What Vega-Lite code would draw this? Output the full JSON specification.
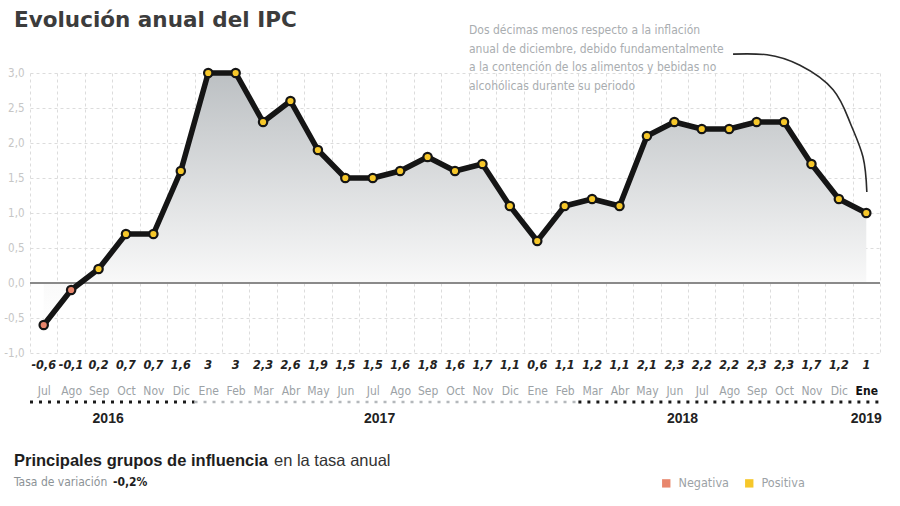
{
  "$schema": "https://vega.github.io/schema/vega-lite/v6.json",
  "width": 850,
  "height": 280,
  "autosize": "none",
  "padding": {"left": 30, "top": 73, "right": 20, "bottom": 153},
  "background": "white",
  "config": {
    "view": {"stroke": null},
    "font": "Liberation Sans",
    "locale": {"number": {"decimal": ",", "thousands": ".", "grouping": [3], "currency": ["", " €"], "minus": "-"}},
    "axisY": {
      "title": null, "grid": true, "gridDash": [3, 3], "gridColor": "#dcdcdc", "domain": false, "ticks": false,
      "labelColor": "#c6c6c6", "labelFontSize": 11.5, "labelPadding": 6, "labelOverlap": false,
      "labelFont": "Liberation Sans Narrow, DejaVu Sans Condensed, Liberation Sans", "format": ".1f"
    }
  },
  "datasets": {
    "ipc": [
      {"m": "Jul 2016", "v": -0.6, "s": "Negativa"},
      {"m": "Ago 2016", "v": -0.1, "s": "Negativa"},
      {"m": "Sep 2016", "v": 0.2, "s": "Positiva"},
      {"m": "Oct 2016", "v": 0.7, "s": "Positiva"},
      {"m": "Nov 2016", "v": 0.7, "s": "Positiva"},
      {"m": "Dic 2016", "v": 1.6, "s": "Positiva"},
      {"m": "Ene 2017", "v": 3.0, "s": "Positiva"},
      {"m": "Feb 2017", "v": 3.0, "s": "Positiva"},
      {"m": "Mar 2017", "v": 2.3, "s": "Positiva"},
      {"m": "Abr 2017", "v": 2.6, "s": "Positiva"},
      {"m": "May 2017", "v": 1.9, "s": "Positiva"},
      {"m": "Jun 2017", "v": 1.5, "s": "Positiva"},
      {"m": "Jul 2017", "v": 1.5, "s": "Positiva"},
      {"m": "Ago 2017", "v": 1.6, "s": "Positiva"},
      {"m": "Sep 2017", "v": 1.8, "s": "Positiva"},
      {"m": "Oct 2017", "v": 1.6, "s": "Positiva"},
      {"m": "Nov 2017", "v": 1.7, "s": "Positiva"},
      {"m": "Dic 2017", "v": 1.1, "s": "Positiva"},
      {"m": "Ene 2018", "v": 0.6, "s": "Positiva"},
      {"m": "Feb 2018", "v": 1.1, "s": "Positiva"},
      {"m": "Mar 2018", "v": 1.2, "s": "Positiva"},
      {"m": "Abr 2018", "v": 1.1, "s": "Positiva"},
      {"m": "May 2018", "v": 2.1, "s": "Positiva"},
      {"m": "Jun 2018", "v": 2.3, "s": "Positiva"},
      {"m": "Jul 2018", "v": 2.2, "s": "Positiva"},
      {"m": "Ago 2018", "v": 2.2, "s": "Positiva"},
      {"m": "Sep 2018", "v": 2.3, "s": "Positiva"},
      {"m": "Oct 2018", "v": 2.3, "s": "Positiva"},
      {"m": "Nov 2018", "v": 1.7, "s": "Positiva"},
      {"m": "Dic 2018", "v": 1.2, "s": "Positiva"},
      {"m": "Ene 2019", "v": 1.0, "s": "Positiva"}
    ],
    "seg": [
      {"year": "2016", "a": -0.5, "b": 5.5},
      {"year": "2017", "a": 5.5, "b": 19.5},
      {"year": "2018", "a": 19.5, "b": 30.5}
    ],
    "years": [
      {"year": "2016", "i": 2.35},
      {"year": "2017", "i": 12.25},
      {"year": "2018", "i": 23.3},
      {"year": "2019", "i": 30.0}
    ],
    "curve": [
      {"i": 25.14, "v": 3.27},
      {"i": 26.38, "v": 3.26},
      {"i": 27.58, "v": 3.11},
      {"i": 28.79, "v": 2.76},
      {"i": 29.41, "v": 2.29},
      {"i": 29.88, "v": 1.8},
      {"i": 30.02, "v": 1.3}
    ]
  },
  "layer": [
    {
      "data": {"name": "ipc"},
      "encoding": {
        "x": {
          "field": "m", "type": "ordinal", "sort": null,
          "scale": {"type": "band", "paddingInner": 0, "paddingOuter": 0},
          "axis": {
            "title": null, "grid": true, "gridDash": [3, 3], "gridColor": "#dcdcdc",
            "tickBand": "extent", "ticks": false, "domain": false, "labelAngle": 0,
            "labelPadding": 32, "labelFontSize": 12, "labelBaseline": "top",
            "labelFont": "Liberation Sans Narrow, DejaVu Sans Condensed, Liberation Sans",
            "labelExpr": "split(datum.label, ' ')[0]",
            "labelColor": {"condition": {"test": "datum.value == 'Ene 2019'", "value": "#111111"}, "value": "#9ca2a6"},
            "labelFontWeight": {"condition": {"test": "datum.value == 'Ene 2019'", "value": "bold"}, "value": "normal"}
          }
        },
        "y": {
          "field": "v", "type": "quantitative",
          "scale": {"domain": [-1, 3], "nice": false, "zero": false},
          "axis": {"values": [-1, -0.5, 0, 0.5, 1, 1.5, 2, 2.5, 3]}
        }
      },
      "layer": [
        {
          "mark": {
            "type": "area",
            "fill": {"x1": 0, "y1": 0, "x2": 0, "y2": 1, "gradient": "linear",
              "stops": [{"offset": 0, "color": "#bcc0c3"}, {"offset": 0.85, "color": "#fafafa"}, {"offset": 1, "color": "#ffffff"}]}
          },
          "encoding": {"y2": {"datum": 0}}
        },
        {
          "mark": {"type": "rule", "color": "#8a8a8a", "strokeWidth": 1.5},
          "encoding": {"x": null, "y": {"datum": 0, "axis": {"values": [-1, -0.5, 0, 0.5, 1, 1.5, 2, 2.5, 3]}}}
        },
        {
          "mark": {"type": "line", "stroke": "#151515", "strokeWidth": 5.5, "strokeJoin": "round", "strokeCap": "round"}
        },
        {
          "mark": {"type": "point", "filled": true, "shape": "circle", "size": 70, "stroke": "#151515", "strokeWidth": 2.2, "opacity": 1},
          "encoding": {
            "fill": {
              "field": "s", "type": "nominal",
              "scale": {"domain": ["Negativa", "Positiva"], "range": ["#e8866c", "#f6c72a"]},
              "legend": {
                "title": null, "orient": "none", "legendX": 630, "legendY": 404, "direction": "horizontal",
                "symbolType": "square", "symbolSize": 70, "symbolStrokeWidth": 0,
                "labelFontSize": 12.5, "labelColor": "#9ca2a6", "columnPadding": 14, "labelOffset": 6,
                "labelFont": "Liberation Sans Narrow, DejaVu Sans Condensed, Liberation Sans"
              }
            }
          }
        },
        {
          "mark": {"type": "text", "fontStyle": "italic", "fontWeight": "bold", "fontSize": 12.5, "color": "#222222", "dy": 12, "baseline": "middle",
            "font": "Liberation Sans Narrow, DejaVu Sans Condensed, Liberation Sans"},
          "encoding": {"y": {"datum": -1, "axis": {"values": [-1, -0.5, 0, 0.5, 1, 1.5, 2, 2.5, 3]}}, "text": {"field": "v", "type": "quantitative", "format": "~g"}}
        }
      ]
    },
    {
      "layer": [
        {
          "data": {"name": "seg"},
          "transform": [{"filter": "datum.year != '2017'"}],
          "mark": {"type": "rule", "strokeDash": [3, 6], "strokeWidth": 3, "color": "#1a1a1a", "yOffset": 49},
          "encoding": {
            "x": {"field": "a", "type": "quantitative", "scale": {"domain": [-0.5, 30.5], "nice": false, "zero": false}, "axis": null},
            "x2": {"field": "b"},
            "y": {"datum": -1, "type": "quantitative", "axis": {"values": [-1, -0.5, 0, 0.5, 1, 1.5, 2, 2.5, 3]}}
          }
        },
        {
          "data": {"name": "seg"},
          "transform": [{"filter": "datum.year == '2017'"}],
          "mark": {"type": "rule", "strokeDash": [3, 6], "strokeWidth": 2.5, "color": "#b4b8bb", "yOffset": 49},
          "encoding": {
            "x": {"field": "a", "type": "quantitative", "scale": {"domain": [-0.5, 30.5], "nice": false, "zero": false}, "axis": null},
            "x2": {"field": "b"},
            "y": {"datum": -1, "type": "quantitative", "axis": {"values": [-1, -0.5, 0, 0.5, 1, 1.5, 2, 2.5, 3]}}
          }
        },
        {
          "data": {"name": "years"},
          "mark": {"type": "text", "fontWeight": "bold", "fontSize": 14, "color": "#222222", "dy": 66, "baseline": "middle"},
          "encoding": {
            "x": {"field": "i", "type": "quantitative", "scale": {"domain": [-0.5, 30.5], "nice": false, "zero": false}, "axis": null},
            "y": {"datum": -1, "type": "quantitative", "axis": {"values": [-1, -0.5, 0, 0.5, 1, 1.5, 2, 2.5, 3]}},
            "text": {"field": "year"}
          }
        },
        {
          "data": {"name": "curve"},
          "mark": {"type": "line", "interpolate": "natural", "stroke": "#2a2a2a", "strokeWidth": 1.6},
          "encoding": {
            "x": {"field": "i", "type": "quantitative", "scale": {"domain": [-0.5, 30.5], "nice": false, "zero": false}, "axis": null},
            "y": {"field": "v", "type": "quantitative", "scale": {"domain": [-1, 3], "nice": false, "zero": false}, "axis": {"values": [-1, -0.5, 0, 0.5, 1, 1.5, 2, 2.5, 3]}}
          }
        },
        {
          "data": {"values": [{}]},
          "mark": {"type": "text", "align": "left", "baseline": "top", "fontSize": 12, "lineHeight": 18.5, "color": "#a9adb0",
            "font": "Liberation Sans Narrow, DejaVu Sans Condensed, Liberation Sans",
            "text": ["Dos décimas menos respecto a la inflación", "anual de diciembre, debido fundamentalmente", "a la contención de los alimentos y bebidas no", "alcohólicas durante su periodo"]},
          "encoding": {"x": {"value": 439}, "y": {"value": -48}}
        },
        {
          "data": {"values": [{}]},
          "mark": {"type": "text", "align": "left", "baseline": "alphabetic", "fontSize": 21.5, "fontWeight": "bold", "color": "#3c3c3c",
            "font": "DejaVu Sans", "text": "Evolución anual del IPC"},
          "encoding": {"x": {"value": -16}, "y": {"value": -46}}
        },
        {
          "data": {"values": [{}]},
          "mark": {"type": "text", "align": "left", "baseline": "alphabetic", "fontSize": 16.5, "fontWeight": "bold", "color": "#1e1e1e",
            "text": "Principales grupos de influencia"},
          "encoding": {"x": {"value": -16}, "y": {"value": 393}}
        },
        {
          "data": {"values": [{}]},
          "mark": {"type": "text", "align": "left", "baseline": "alphabetic", "fontSize": 16.5, "color": "#333333",
            "text": "en la tasa anual"},
          "encoding": {"x": {"value": 244}, "y": {"value": 393}}
        },
        {
          "data": {"values": [{}]},
          "mark": {"type": "text", "align": "left", "baseline": "alphabetic", "fontSize": 12, "color": "#8c9296",
            "font": "Liberation Sans Narrow, DejaVu Sans Condensed, Liberation Sans", "text": "Tasa de variación"},
          "encoding": {"x": {"value": -16}, "y": {"value": 413}}
        },
        {
          "data": {"values": [{}]},
          "mark": {"type": "text", "align": "left", "baseline": "alphabetic", "fontSize": 12, "fontWeight": "bold", "color": "#1e1e1e",
            "font": "Liberation Sans Narrow, DejaVu Sans Condensed, Liberation Sans", "text": "-0,2%"},
          "encoding": {"x": {"value": 83}, "y": {"value": 413}}
        }
      ]
    }
  ],
  "resolve": {"scale": {"x": "independent"}}
}
